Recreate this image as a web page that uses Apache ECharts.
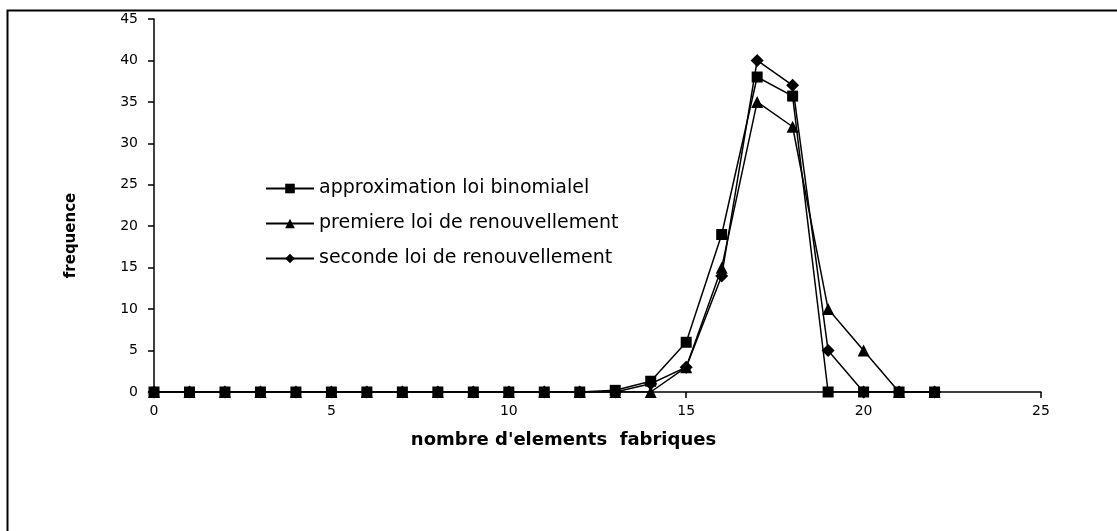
<!DOCTYPE html>
<html>
<head>
<meta charset="utf-8">
<script src="https://cdn.jsdelivr.net/npm/echarts@6/dist/echarts.min.js"></script>
<style>
  html, body { margin: 0; padding: 0; background: #fff; }
  #chart { width: 1117px; height: 531px; }
</style>
</head>
<body>
<div id="chart"></div>
<script>
// nombre d'elements fabriques
const xs = [0, 1, 2, 3, 4, 5, 6, 7, 8, 9, 10, 11, 12, 13, 14, 15, 16, 17, 18, 19, 20, 21, 22]

const binomiale = [0, 0, 0, 0, 0, 0, 0, 0, 0, 0, 0, 0, 0, 0.2, 1.3, 6, 19, 38, 35.7, 0, 0, 0, 0]
const premiere = [0, 0, 0, 0, 0, 0, 0, 0, 0, 0, 0, 0, 0, 0, 0, 3, 15, 35, 32, 10, 5, 0, 0]
const seconde = [0, 0, 0, 0, 0, 0, 0, 0, 0, 0, 0, 0, 0, 0, 1, 3, 14, 40, 37, 5, 0, 0, 0]

const seriesNames = [
  'approximation loi binomialel',
  'premiere loi de renouvellement',
  'seconde loi de renouvellement'
]

const font = 'DejaVu Sans, Liberation Sans, sans-serif'

function pairs(values) {
  return xs.map((x, i) => [x, values[i]])
}

const chart = echarts.init(document.getElementById('chart'))

const lineSeries = (name, values, symbol, size) => ({
  name,
  type: 'line',
  data: pairs(values),
  symbol,
  symbolSize: size,
  showAllSymbol: true,
  lineStyle: { color: '#000', width: 1.5 },
  itemStyle: { color: '#000', borderWidth: 0 },
  emphasis: { disabled: true }
})

chart.setOption({
  animation: false,
  graphic: [
    {
      type: 'rect',
      shape: { x: 7.5, y: 10.5, width: 1200, height: 600 },
      style: { fill: 'none', stroke: '#000', lineWidth: 2 },
      silent: true
    }
  ],
  grid: { left: 154, top: 19, right: 76, bottom: 139 },
  legend: {
    orient: 'vertical',
    left: 265,
    top: 178,
    padding: 0,
    itemWidth: 48,
    itemHeight: 12,
    itemGap: 14,
    textStyle: { fontFamily: font, fontSize: 19, lineHeight: 21, color: '#000' },
    data: seriesNames
  },
  xAxis: {
    type: 'value',
    min: 0,
    max: 25,
    interval: 5,
    name: "nombre d'elements  fabriques",
    nameLocation: 'middle',
    nameGap: 39,
    nameTextStyle: {
      fontFamily: font, fontSize: 18, fontWeight: 'bold', color: '#000',
      padding: [0, 68, 0, 0]
    },
    axisLine: { lineStyle: { color: '#000', width: 1.5 } },
    axisTick: { show: true, length: 6, lineStyle: { color: '#000', width: 1.5 } },
    axisLabel: { fontFamily: font, fontSize: 14, color: '#000', margin: 12 },
    splitLine: { show: false }
  },
  yAxis: {
    type: 'value',
    min: 0,
    max: 45,
    interval: 5,
    name: 'frequence',
    nameLocation: 'middle',
    nameGap: 75,
    nameTextStyle: {
      fontFamily: font, fontSize: 15, fontWeight: 'bold', color: '#000',
      padding: [0, 60, 0, 0]
    },
    axisLine: { show: true, lineStyle: { color: '#000', width: 1.5 } },
    axisTick: { show: true, length: 6, lineStyle: { color: '#000', width: 1.5 } },
    axisLabel: { fontFamily: font, fontSize: 14, color: '#000', margin: 16 },
    splitLine: { show: false }
  },
  series: [
    lineSeries(seriesNames[0], binomiale, 'rect', 11),
    lineSeries(seriesNames[1], premiere, 'triangle', 12),
    lineSeries(seriesNames[2], seconde, 'diamond', 13)
  ]
})
</script>
</body>
</html>
